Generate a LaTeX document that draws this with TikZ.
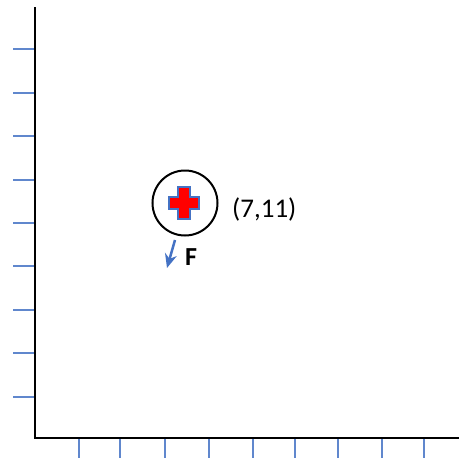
\documentclass[tikz,border=0pt]{standalone}
\usepackage{fontspec}
\setmainfont{Carlito}
\usetikzlibrary{arrows.meta,positioning}
\definecolor{tickblue}{HTML}{4472C4}
\begin{document}
\begin{tikzpicture}[x=1pt,y=-1pt,>=Stealth,
  tick/.style={draw=tickblue!85,line width=1.3pt},
  ax/.style={draw=black,line width=2.5pt},
  body/.style={circle,draw,line width=2pt,minimum size=65pt,inner sep=0pt},
  lbl/.style={inner sep=0pt,font=\fontsize{27}{30}\selectfont}]
  \useasboundingbox (0,0) rectangle (459,458);
  % axes
  \coordinate (O) at (35,438);
  \coordinate (ytop) at (35,7);
  \coordinate (xend) at (459,438);
  \draw[ax] (ytop) -- (O) -- (xend);
  \foreach \y in {49,93,136,180,223,266,310,353,397}
    \draw[tick] (13,\y) -- (34,\y);
  \foreach \x in {79,120,165,209,253,295,338,382,424}
    \draw[tick] (\x,439) -- (\x,458);
  % body with cross
  \node[body](p) at (185,203){};
  \begin{scope}[shift={(184,203)}]
    \draw[fill=red,draw=tickblue,line width=1.3pt]
      (-6,-16) -- (6,-16) -- (6,-6) -- (15,-6) -- (15,6) -- (6,6) -- (6,16)
      -- (-6,16) -- (-6,6) -- (-15,6) -- (-15,-6) -- (-6,-6) -- cycle;
  \end{scope}
  \node[lbl,anchor=west](pos) at (232,209){(7,11)};
  % force
  \coordinate (ftail) at (175,240);
  \coordinate (fhead) at (167,268);
  \draw[-{Stealth[length=14pt,width=12pt]},draw=tickblue,line width=2.5pt] (ftail) -- (fhead);
  \node[lbl,anchor=west,font=\fontsize{26}{28}\selectfont\bfseries](F) at (185,257.5){F};
\end{tikzpicture}
\end{document}
